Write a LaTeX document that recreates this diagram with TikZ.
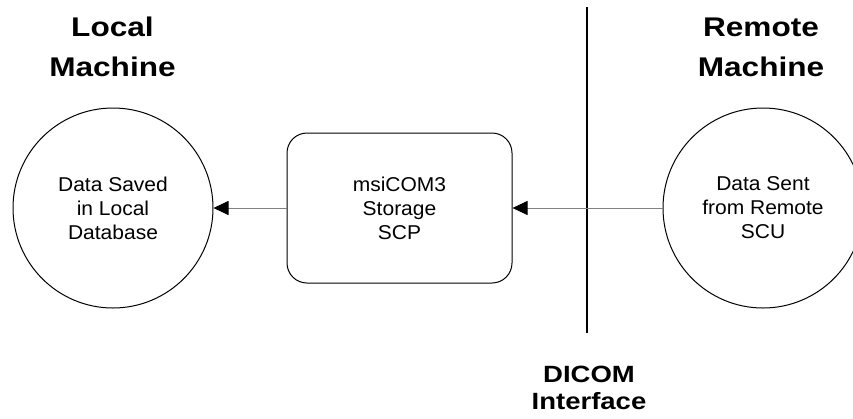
\documentclass[tikz,border=0pt]{standalone}
\usepackage{fontspec}
\setmainfont{Liberation Sans}
\newfontfamily\headfont[FakeStretch=1.17]{Liberation Sans}
\newfontfamily\bodyfont[FakeStretch=1.05]{Liberation Sans}
\usetikzlibrary{arrows.meta}

\tikzset{
    station/.style={circle, draw, line width=1pt, minimum size=200pt, inner sep=0pt,
        align=center, font=\bodyfont\fontsize{20}{24}\selectfont},
    service/.style={rectangle, draw, line width=1pt, rounded corners=20pt,
        minimum width=225pt, minimum height=150pt, inner sep=0pt,
        align=center, font=\bodyfont\fontsize{20}{24}\selectfont},
    heading/.style={align=center, inner sep=0pt, font=\headfont\bfseries\fontsize{27}{40}\selectfont},
    flow/.style={draw=gray, line width=0.8pt}
}

\begin{document}
\begin{tikzpicture}[x=1pt, y=-1pt, >={Triangle[length=15pt, width=14pt, color=black]}]
    \clip (0,0) rectangle (853,418);

    \node[heading] (lhead) at (112.5,46.5) {Local\\Machine};
    \node[heading] (rhead) at (761,47) {Remote\\Machine};
    \node[heading, font=\headfont\bfseries\fontsize{23.5}{27}\selectfont] (ihead) at (589,388) {DICOM\\Interface};

    \node[station] (db) at (113,208) {Data Saved\\in Local\\Database};
    \node[service] (scp) at (399.5,208) {msiCOM3\\Storage\\SCP};
    \node[station] (scu) at (763,208) {Data Sent\\from Remote\\SCU};

    % divider between the two machines
    \coordinate (divtop) at (587,7);
    \coordinate (divbot) at (587,333);
    \draw[line width=1.2pt] (divtop) -- (divbot);

    \path[->]
    (scu) edge[flow] (scp)
    (scp) edge[flow] (db);
\end{tikzpicture}
\end{document}
